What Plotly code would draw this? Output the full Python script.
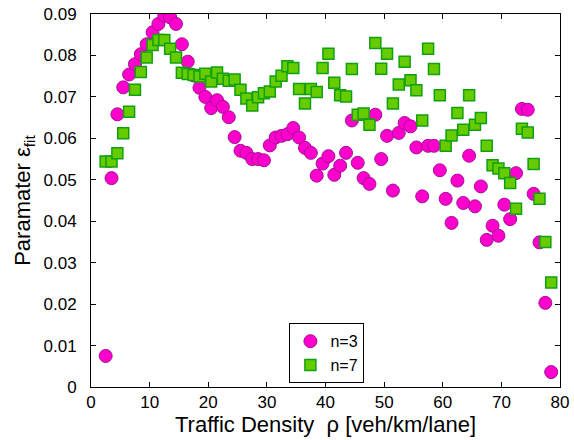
import plotly.graph_objects as go

density = [2.5 + i for i in range(77)]  # 2.5 ... 78.5

eps_n3 = [0.0075, 0.0504, 0.0658, 0.0723, 0.0754, 0.0779, 0.0803, 0.0827, 0.0856, 0.0876,
          0.0896, 0.0892, 0.0876, 0.0827, 0.0785, 0.0752, 0.0722, 0.0700, 0.0673, 0.0692,
          0.0676, 0.0651, 0.0603, 0.0570, 0.0565, 0.0550, 0.0550, 0.0547, 0.0583, 0.0602,
          0.0606, 0.0610, 0.0625, 0.0602, 0.0577, 0.0565, 0.0510, 0.0539, 0.0557, 0.0512,
          0.0534, 0.0565, 0.0643, 0.0541, 0.0504, 0.0490, 0.0657, 0.0550, 0.0606, 0.0474,
          0.0613, 0.0637, 0.0629, 0.0578, 0.0460, 0.0582, 0.0582, 0.0523, 0.0454, 0.0396,
          0.0498, 0.0444, 0.0558, 0.0436, 0.0484, 0.0355, 0.0389, 0.0365, 0.0440, 0.0405,
          0.0516, 0.0671, 0.0669, 0.0466, 0.0349, 0.0203, 0.0036]

eps_n7 = [0.0544, 0.0544, 0.0564, 0.0612, 0.0664, 0.0717, 0.0760, 0.0795, 0.0825, 0.0837,
          0.0837, 0.0816, 0.0795, 0.0758, 0.0755, 0.0753, 0.0749, 0.0756, 0.0737, 0.0759,
          0.0744, 0.0739, 0.0742, 0.0717, 0.0696, 0.0679, 0.0699, 0.0709, 0.0713, 0.0737,
          0.0751, 0.0774, 0.0770, 0.0719, 0.0684, 0.0719, 0.0712, 0.0770, 0.0804, 0.0734,
          0.0704, 0.0701, 0.0767, 0.0657, 0.0660, 0.0633, 0.0830, 0.0768, 0.0804, 0.0684,
          0.0730, 0.0785, 0.0740, 0.0716, 0.0643, 0.0816, 0.0767, 0.0704, 0.0582, 0.0607,
          0.0661, 0.0621, 0.0704, 0.0633, 0.0649, 0.0582, 0.0535, 0.0527, 0.0516, 0.0492,
          0.0430, 0.0623, 0.0614, 0.0538, 0.0454, 0.0350, 0.0252]

x_ticks = [0, 10, 20, 30, 40, 50, 60, 70, 80]
y_ticks = [0, 0.01, 0.02, 0.03, 0.04, 0.05, 0.06, 0.07, 0.08, 0.09]
y_tick_labels = ["0", "0.01", "0.02", "0.03", "0.04", "0.05", "0.06", "0.07", "0.08", "0.09"]

FONT = "Liberation Sans"

fig = go.Figure()
fig.add_trace(go.Scatter(
    x=density, y=eps_n3, mode="markers", name="n=3",
    marker=dict(symbol="circle", size=13, color="#ff00cc",
                line=dict(color="#a0129a", width=1))))
fig.add_trace(go.Scatter(
    x=density, y=eps_n7, mode="markers", name="n=7",
    marker=dict(symbol="square", size=11, color="#66cc00",
                line=dict(color="#11a011", width=1.5))))

axis_common = dict(showgrid=False, zeroline=False, showline=True, linecolor="black",
                   linewidth=1, mirror="ticks", ticks="inside", ticklen=5,
                   tickcolor="black", automargin=False,
                   tickfont=dict(family=FONT, size=17, color="black"))

fig.update_layout(
    width=574, height=440,
    margin=dict(l=91, r=14, t=14, b=53),
    paper_bgcolor="white", plot_bgcolor="white",
    font=dict(family=FONT, color="black"),
    xaxis=dict(range=[0, 80], tickvals=x_ticks, ticklabelstandoff=0,
               title=dict(text="Traffic Density  ρ [veh/km/lane]",
                          font=dict(family=FONT, size=22), standoff=0),
               **axis_common),
    yaxis=dict(range=[0, 0.09], tickvals=y_ticks, ticktext=y_tick_labels,
               ticklabelstandoff=10,
               title=dict(text="Paramater ε<sub>fit</sub>",
                          font=dict(family=FONT, size=22), standoff=6),
               **axis_common),
    legend=dict(x=0.503, xanchor="center", y=0.01, yanchor="bottom",
                bordercolor="black", borderwidth=1, bgcolor="white",
                font=dict(family=FONT, size=16), tracegroupgap=0),
    showlegend=True,
)

fig.write_html("out.html", config={"displayModeBar": False},
               post_script="document.body.style.margin='0';document.body.style.overflow='hidden';")
